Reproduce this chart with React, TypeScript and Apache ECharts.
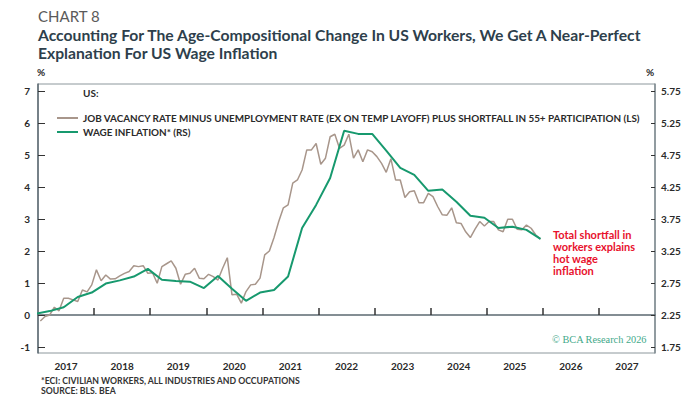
import React, { useEffect, useRef } from "react";
import * as echarts from "echarts";

// ---- DATA ----
// Brown series: monthly, Jan 2017 .. Dec 2025 (left scale, %)
const brownStartYear = 2017;
const brownValues = [
  -0.19, -0.05, 0.0, 0.24, 0.13, 0.52, 0.52, 0.47, 0.42, 0.78, 0.72, 0.94,
  1.41, 1.07, 1.25, 1.12, 1.13, 1.22, 1.3, 1.36, 1.54, 1.51, 1.54, 1.3,
  1.32, 0.99, 1.51, 1.6, 1.69, 1.46, 0.96, 1.27, 1.3, 1.46, 1.15, 1.13,
  1.27, 1.2, 1.09, 1.46, 1.79, 0.63, 0.65, 0.37, 0.73, 0.94, 0.96, 1.15,
  1.88, 2.0, 2.42, 2.92, 3.35, 3.44, 4.12, 4.22, 4.53, 5.16, 5.16, 5.36,
  4.71, 4.9, 5.57, 5.65, 5.21, 5.31, 5.65, 4.9, 5.16, 4.79, 5.16, 5.1,
  4.95, 4.74, 4.46, 4.88, 4.22, 4.22, 3.67, 3.85, 3.88, 3.51, 3.51, 3.8,
  3.7, 3.39, 3.13, 3.12, 3.35, 2.88, 2.86, 2.6, 2.42, 2.68, 2.92, 2.78,
  2.92, 2.92, 2.66, 2.6, 2.99, 2.99, 2.68, 2.66, 2.81, 2.71, 2.5, 2.37,
];
// Green series: quarterly, Q4 2016 .. Q4 2025 (right scale, %)
const greenStartYear = 2016;
const greenStartMonth = 12;
const greenValues = [
  2.27, 2.31, 2.37, 2.53, 2.6, 2.74, 2.79, 2.85, 2.97, 2.8, 2.78, 2.77,
  2.67, 2.86, 2.66, 2.47, 2.6, 2.64, 2.85, 3.61, 3.97, 4.39, 5.13, 5.08,
  5.08, 4.82, 4.55, 4.44, 4.19, 4.21, 4.02, 3.8, 3.77, 3.61, 3.63, 3.58, 3.44,
];
const yearLabels = ["2017", "2018", "2019", "2020", "2021", "2022", "2023", "2024", "2025", "2026", "2027"];
const yearTicks = [2018, 2019, 2020, 2021, 2022, 2023, 2024, 2025, 2026, 2027];
const leftTicks = [-1, 0, 1, 2, 3, 4, 5, 6, 7];
const rightTicks = [1.75, 2.25, 2.75, 3.25, 3.75, 4.25, 4.75, 5.25, 5.75];

const brownName =
  "JOB VACANCY RATE MINUS UNEMPLOYMENT RATE (EX ON TEMP LAYOFF) PLUS SHORTFALL IN 55+ PARTICIPATION (LS)";
const greenName = "WAGE INFLATION* (RS)";

const BROWN = "#a8968b";
const GREEN = "#17996e";
const AXIS = "#5b6870";
const DARK = "#2a2a2a";
const FONT = "Lato, 'Noto Sans', sans-serif";

export default function App() {
  const ref = useRef<HTMLDivElement>(null);

  useEffect(() => {
    if (!ref.current) return;
    const chart = echarts.init(ref.current, null, { renderer: "svg" });

    const brownData = brownValues.map((v, i) => [brownStartYear + (i + 0.5) / 12, v]);
    const greenData = greenValues.map((v, i) => [
      greenStartYear + (greenStartMonth - 0.5 + 3 * i) / 12,
      v,
    ]);

    const axisLabelBase = {
      fontFamily: FONT,
      fontSize: 10,
      fontWeight: "bold" as const,
      color: DARK,
    };

    chart.setOption({
      animation: false,
      backgroundColor: "#ffffff",
      grid: {
        left: 38,
        right: 45,
        top: 84,
        bottom: 41,
        show: true,
        borderColor: "#8c979c",
        borderWidth: 1,
        backgroundColor: "transparent",
      },
      legend: {
        orient: "vertical",
        left: 52,
        top: 107,
        itemGap: 2,
        itemWidth: 21,
        itemHeight: 2,
        selectedMode: false,
        textStyle: {
          fontFamily: FONT,
          fontSize: 9.9,
          fontWeight: "bold",
          color: DARK,
          lineHeight: 12,
        },
        data: [
          { name: brownName, icon: "rect", itemStyle: { color: BROWN } },
          { name: greenName, icon: "rect", itemStyle: { color: GREEN } },
        ],
      },
      xAxis: {
        type: "value",
        min: 2017,
        max: 2028,
        splitLine: { show: false },
        axisLine: { show: true, lineStyle: { color: AXIS, width: 1.5 } },
        axisTick: {
          show: true,
          inside: true,
          length: 7,
          customValues: yearTicks,
          lineStyle: { color: "#333", width: 1.5 },
        },
        axisLabel: {
          ...axisLabelBase,
          margin: 8,
          customValues: yearLabels.map((y) => Number(y) + 0.5),
          formatter: (v: number) => String(Math.floor(v)),
        },
      },
      yAxis: [
        {
          type: "value",
          min: -1.19,
          max: 7.22,
          splitLine: { show: false },
          axisLine: { show: true, lineStyle: { color: AXIS, width: 1.5 } },
          axisTick: {
            show: true,
            inside: true,
            length: 7,
            customValues: leftTicks,
            lineStyle: { color: "#333" },
          },
          axisLabel: {
            ...axisLabelBase,
            margin: 8,
            customValues: leftTicks,
            formatter: (v: number) => String(Math.round(v)),
          },
        },
        {
          type: "value",
          position: "right",
          min: 1.655,
          max: 5.86,
          splitLine: { show: false },
          axisLine: { show: true, lineStyle: { color: "#7f8b91", width: 1.5 } },
          axisTick: {
            show: true,
            inside: true,
            length: 4,
            customValues: rightTicks,
            lineStyle: { color: "#333" },
          },
          axisLabel: {
            ...axisLabelBase,
            margin: 6,
            customValues: rightTicks,
            formatter: (v: number) => v.toFixed(2),
          },
        },
      ],
      series: [
        {
          name: brownName,
          type: "line",
          yAxisIndex: 0,
          data: brownData,
          showSymbol: false,
          symbol: "none",
          color: BROWN,
          lineStyle: { color: BROWN, width: 1.5 },
          z: 2,
        },
        {
          name: greenName,
          type: "line",
          yAxisIndex: 1,
          data: greenData,
          showSymbol: false,
          symbol: "none",
          color: GREEN,
          lineStyle: { color: GREEN, width: 2 },
          z: 3,
        },
      ],
      graphic: [
        {
          type: "text",
          left: 38,
          top: 8,
          style: { text: "CHART 8", fontFamily: FONT, fontSize: 15, fill: "#5a5a5a" },
        },
        {
          type: "text",
          left: 38,
          top: 26,
          style: {
            text: "Accounting For The Age-Compositional Change In US Workers, We Get A Near-Perfect\nExplanation For US Wage Inflation",
            fontFamily: FONT,
            fontSize: 15.7,
            fontWeight: "bold",
            lineHeight: 18,
            fill: "#2e3f4c",
          },
        },
        {
          type: "text",
          left: 37,
          top: 67,
          style: { text: "%", fontFamily: FONT, fontSize: 10, fontWeight: "bold", fill: DARK },
        },
        {
          type: "text",
          left: 646,
          top: 67,
          style: { text: "%", fontFamily: FONT, fontSize: 10, fontWeight: "bold", fill: DARK },
        },
        {
          type: "text",
          left: 83,
          top: 88,
          style: { text: "US:", fontFamily: FONT, fontSize: 10, fontWeight: "bold", fill: DARK },
        },
        {
          type: "text",
          left: 553,
          top: 229,
          style: {
            text: "Total shortfall in\nworkers explains\nhot wage\ninflation",
            fontFamily: FONT,
            fontSize: 11,
            fontWeight: "bold",
            lineHeight: 11.8,
            fill: "#e8112d",
          },
        },
        {
          type: "text",
          left: 552,
          top: 334,
          style: {
            text: "© BCA Research 2026",
            fontFamily: "'Liberation Serif', 'DejaVu Serif', serif",
            fontSize: 10.3,
            fill: "#3fa98a",
          },
        },
        {
          type: "text",
          left: 41,
          top: 375,
          style: {
            text: "*ECI: CIVILIAN WORKERS, ALL INDUSTRIES AND OCCUPATIONS\nSOURCE: BLS, BEA",
            fontFamily: FONT,
            fontSize: 8.7,
            fontWeight: "bold",
            lineHeight: 10,
            fill: "#333333",
          },
        },
      ],
    });

    return () => chart.dispose();
  }, []);

  return (
    <div
      ref={ref}
      style={{ position: "fixed", left: 0, top: 0, width: 700, height: 394, background: "#fff" }}
    />
  );
}
